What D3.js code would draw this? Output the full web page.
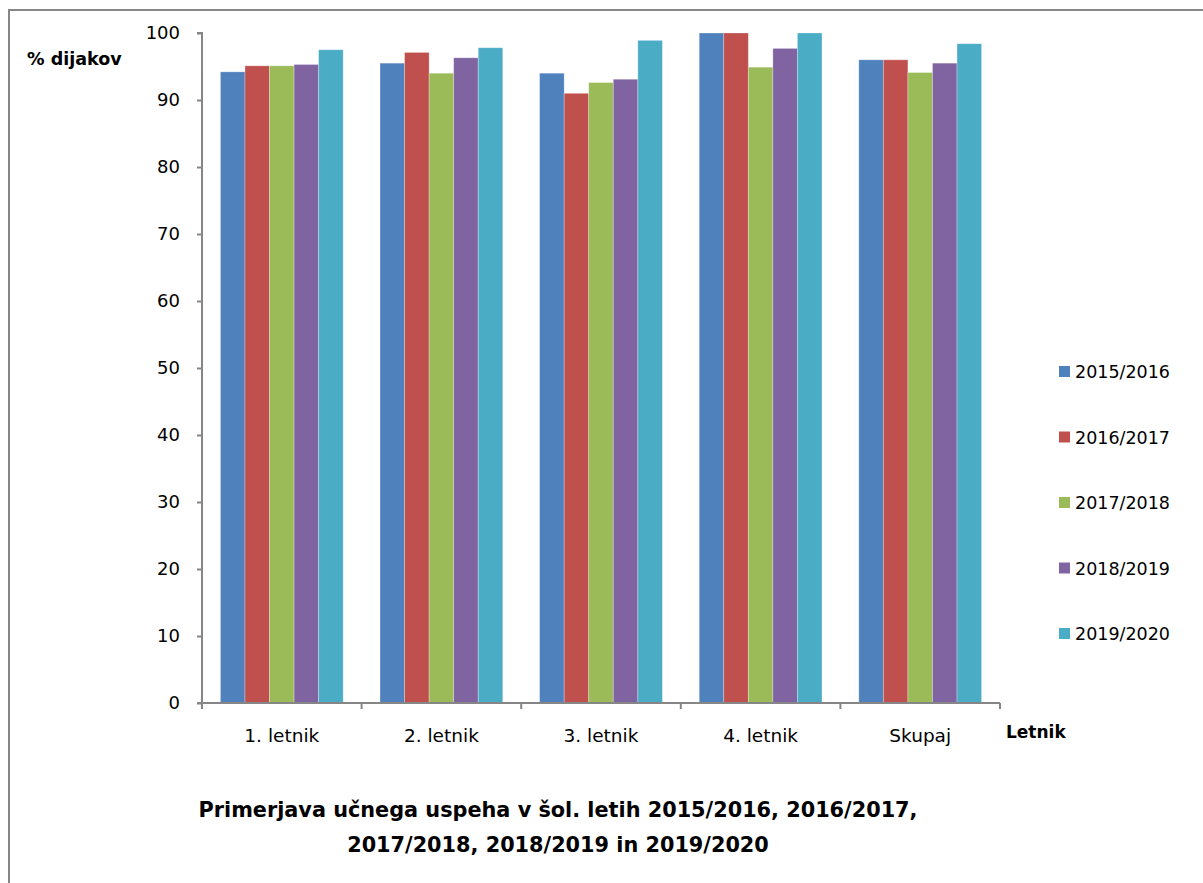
<!DOCTYPE html>
<html>
<head>
<meta charset="utf-8">
<script src="https://cdn.jsdelivr.net/npm/d3@7"></script>
<style>
body { margin: 0; background: #fff; }
svg text { font-family: "DejaVu Sans", Verdana, sans-serif; fill: #000; }
</style>
</head>
<body>
<div id="chart"></div>
<script>
var categories = ["1. letnik", "2. letnik", "3. letnik", "4. letnik", "Skupaj"];
var years = ["2015/2016", "2016/2017", "2017/2018", "2018/2019", "2019/2020"];
var colors = ["#4F81BD", "#C0504D", "#9BBB59", "#8064A2", "#4BACC6"];
// one array per school year, values per letnik
var v2015 = [94.2, 95.5, 94.0, 100, 96.0];
var v2016 = [95.1, 97.1, 91.0, 100, 96.0];
var v2017 = [95.1, 94.0, 92.6, 94.9, 94.1];
var v2018 = [95.3, 96.3, 93.1, 97.7, 95.5];
var v2019 = [97.5, 97.8, 98.9, 100, 98.4];
var yTicks = [0, 10, 20, 30, 40, 50, 60, 70, 80, 90, 100];
var series = [v2015, v2016, v2017, v2018, v2019];

var width = 1203, heigth = 883;
var svg = d3.select("#chart").append("svg")
    .attr("width", width).attr("height", heigth);

// outer frame (cut at right/bottom like the screenshot)
svg.append("path")
    .attr("d", "M9," + heigth + " V10 H" + width)
    .attr("fill", "none").attr("stroke", "#868686").attr("stroke-width", 2);

var x0 = d3.scaleBand().domain(categories).range([202, 1000]).padding(0);
// gap width 150%: bars take 5 of 6.5 units
var x1 = d3.scaleBand().domain(years)
    .range([x0.bandwidth() * 0.75 / 6.5, x0.bandwidth() * 5.75 / 6.5]).padding(0);
var y = d3.scaleLinear().domain([0, 100]).range([703, 33]);

var g = svg.append("g");
categories.forEach(function (c, i) {
    var grp = g.append("g").attr("transform", "translate(" + x0(c) + ",0)");
    years.forEach(function (yr, j) {
        grp.append("rect")
            .attr("x", x1(yr))
            .attr("y", y(series[j][i]))
            .attr("width", x1.bandwidth())
            .attr("height", y(0) - y(series[j][i]))
            .attr("fill", colors[j])
            .attr("stroke", "#fff").attr("stroke-opacity", 0.35).attr("stroke-width", 0.8);
    });
});

// y axis
var yAxis = svg.append("g").attr("transform", "translate(202,0)")
    .call(d3.axisLeft(y).tickValues(yTicks).tickSize(5).tickPadding(17));
yAxis.select(".domain").attr("stroke", "#868686").attr("stroke-width", 2).attr("d", "M-5,33H0V703H-5");
yAxis.selectAll(".tick line").attr("stroke", "#868686").attr("stroke-width", 2);
yAxis.selectAll(".tick text").attr("font-size", 18).attr("fill", "#000")
    .style("font-family", "'DejaVu Sans', Verdana, sans-serif");

// x axis
var xAxis = svg.append("g").attr("transform", "translate(0,703)");
xAxis.append("line").attr("x1", 202).attr("x2", 1000).attr("y1", 0).attr("y2", 0)
    .attr("stroke", "#868686").attr("stroke-width", 2);
var bounds = categories.map(function (c) { return x0(c); }).concat([1000]);
xAxis.selectAll(".xt").data(bounds).enter().append("line")
    .attr("x1", function (d) { return d; }).attr("x2", function (d) { return d; })
    .attr("y1", 0).attr("y2", 6).attr("stroke", "#868686").attr("stroke-width", 2);
xAxis.selectAll(".xl").data(categories).enter().append("text")
    .attr("x", function (d) { return x0(d) + x0.bandwidth() / 2; })
    .attr("y", 39).attr("text-anchor", "middle").attr("font-size", 18.5)
    .text(function (d) { return d; });

// axis titles
svg.append("text").attr("x", 27).attr("y", 65).attr("font-size", 17.5).attr("font-weight", "bold").text("% dijakov");
svg.append("text").attr("x", 1006).attr("y", 738).attr("font-size", 17).attr("font-weight", "bold").text("Letnik");

// legend
var leg = svg.append("g");
years.forEach(function (yr, j) {
    var cy = 371.5 + j * 65.5;
    leg.append("rect").attr("x", 1059).attr("y", cy - 5.5).attr("width", 11).attr("height", 11).attr("fill", colors[j]);
    leg.append("text").attr("x", 1075).attr("y", cy + 6.5).attr("font-size", 17.5).text(yr);
});

// chart title
var title = svg.append("text").attr("text-anchor", "middle").attr("font-size", 20.8).attr("font-weight", "bold");
title.append("tspan").attr("x", 558).attr("y", 817).text("Primerjava učnega uspeha v šol. letih 2015/2016, 2016/2017,");
title.append("tspan").attr("x", 558).attr("y", 852).text("2017/2018, 2018/2019 in 2019/2020");
</script>
</body>
</html>
